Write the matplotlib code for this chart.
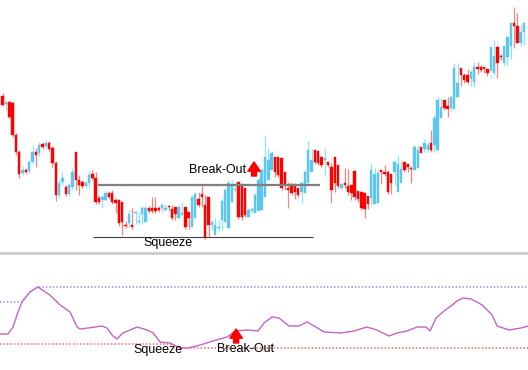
import numpy as np
import matplotlib
matplotlib.use("Agg")
import matplotlib.pyplot as plt
from matplotlib.lines import Line2D

plt.rcParams["font.family"] = ["Liberation Sans", "DejaVu Sans"]

# candles: open, close, high, low (price units)
opens = [154, 146, 148, 147, 115, 98, 77, 80, 79, 88, 98, 97, 106, 104, 107, 102, 87,
         55, 68, 63, 56, 63, 98, 70, 68, 64, 67, 76, 72, 52, 50, 50, 57, 57, 50, 50,
         48, 25, 27, 25, 37, 28, 36, 28, 42, 42, 42, 42, 42, 40, 44, 41, 43, 32, 35,
         43, 38, 23, 32, 51, 56, 45, 53, 25, 15, 22, 30, 28, 22, 48, 60, 68, 66, 62,
         33, 39, 37, 39, 40, 53, 70, 80, 93, 93, 92, 78, 62, 66, 66, 62, 58, 57, 67,
         78, 100, 99, 93, 90, 88, 83, 93, 85, 62, 67, 64, 65, 79, 59, 58, 57, 54, 52,
         46, 47, 80, 78, 78, 76, 78, 58, 67, 88, 86, 82, 80, 82, 103, 101, 100, 107,
         105, 100, 132, 150, 144, 142, 141, 153, 182, 175, 175, 171, 168, 183, 183, 183,
         181, 179, 177, 203, 194, 187, 193, 204, 227, 224, 207, 218]
closes = [145, 148, 133, 115, 98, 76, 80, 78, 88, 98, 95, 105, 103, 107, 101, 87, 55,
          67, 72, 56, 65, 78, 70, 65, 64, 67, 75, 72, 48, 48, 53, 57, 53, 48, 47, 27,
          28, 24, 36, 23, 37, 28, 42, 42, 39, 39, 39, 40, 45, 42, 43, 32, 36, 43, 37,
          23, 32, 53, 56, 45, 53, 13, 25, 28, 25, 22, 49, 60, 67, 65, 60, 33, 33, 35,
          40, 41, 55, 70, 80, 93, 90, 97, 78, 75, 62, 66, 60, 57, 58, 55, 67, 78, 100,
          90, 88, 87, 85, 92, 85, 60, 67, 64, 66, 65, 58, 57, 53, 51, 42, 41, 46, 80,
          76, 77, 78, 76, 58, 67, 88, 86, 81, 80, 83, 81, 103, 100, 97, 107, 105, 100,
          132, 150, 143, 142, 141, 153, 182, 167, 175, 170, 168, 178, 183, 181, 180, 181,
          177, 203, 194, 187, 193, 204, 213, 227, 224, 207, 218, 227]
highs = [157, 149, 149, 149, 117, 100, 84, 82, 90, 105, 102, 108, 108, 110, 109, 104,
         89, 70, 78, 65, 67, 82, 87, 75, 70, 69, 79, 80, 78, 55, 55, 59, 59, 60, 52,
         50, 32, 29, 40, 42, 39, 38, 44, 44, 44, 53, 53, 44, 47, 46, 45, 45, 38, 45,
         48, 40, 34, 55, 58, 58, 65, 55, 28, 30, 32, 30, 51, 62, 70, 70, 68, 64, 41,
         40, 42, 43, 57, 72, 82, 115, 102, 99, 93, 80, 78, 68, 68, 64, 60, 59, 69, 80,
         109, 101, 95, 92, 90, 102, 87, 87, 69, 68, 62, 82, 81, 61, 60, 56, 54, 46, 48,
         87, 82, 80, 80, 85, 80, 69, 90, 95, 89, 84, 85, 84, 105, 105, 103, 111, 109,
         120, 135, 153, 152, 146, 153, 155, 187, 187, 177, 177, 181, 180, 188, 188, 185,
         183, 180, 175, 210, 205, 196, 195, 207, 215, 243, 237, 226, 220, 230]
lows = [144, 140, 132, 113, 95, 72, 75, 76, 77, 86, 83, 94, 101, 102, 99, 83, 49,
        52, 65, 54, 54, 61, 60, 55, 62, 62, 63, 70, 46, 46, 42, 50, 51, 46, 37, 24,
        15, 22, 23, 21, 26, 26, 26, 38, 37, 37, 37, 38, 38, 40, 39, 30, 30, 32, 35,
        21, 21, 30, 49, 43, 43, 11, 13, 20, 23, 19, 20, 46, 58, 63, 58, 31, 30, 33,
        35, 37, 38, 51, 66, 78, 88, 90, 73, 73, 60, 60, 42, 55, 51, 53, 47, 65, 76,
        88, 86, 85, 83, 75, 83, 47, 58, 62, 60, 62, 55, 50, 50, 48, 40, 32, 41, 45,
        74, 75, 66, 74, 56, 56, 65, 84, 79, 78, 78, 67, 80, 98, 103, 98, 98, 98, 98,
        130, 141, 140, 133, 139, 151, 165, 164, 167, 166, 164, 163, 176, 178, 177,
        174, 172, 175, 172, 190, 184, 185, 191, 202, 211, 204, 205, 216]

# indicator line (bar index, value)
ind_x = [-0.8, 1.6, 3.1, 4.6, 5.8, 8.2, 10.6, 14.2, 17.3, 20.3, 22.4, 23.3, 25.7,
         29.9, 31.4, 32.9, 34.4, 36.2, 40.5, 43.5, 45.3, 47.4, 50.4, 53.4, 55.9,
         59.5, 63.3, 67.6, 70.0, 73.6, 76.9, 78.7, 81.1, 83.2, 86.2, 89.2, 91.7,
         93.8, 96.8, 101.9, 105.8, 109.7, 112.7, 116.3, 118.8, 121.8, 124.8, 127.5,
         128.7, 130.5, 132.9, 135.0, 136.8, 138.6, 141.1, 144.4, 147.4, 148.9, 152.5,
         156.1, 158.2]
ind_y = [36, 36, 43, 58, 68, 78, 83, 75, 65, 58, 43, 41, 42, 44, 42, 35, 31, 37, 43,
         40, 37, 28, 27, 22, 22, 25, 29, 33, 39, 40, 39, 47, 53, 52, 44, 44, 48, 44,
         38, 37, 39, 43, 40, 34, 37, 39, 43, 43, 39, 52, 59, 64, 69, 72, 71, 65, 55,
         44, 40, 42, 44]

upper_x = [-0.8, 5.8, 8.2, 10.6, 158.2]
upper_y = [68, 68, 78, 83, 83]
lower_x = [-0.8, 50.4, 53.4, 158.2]
lower_y = [26, 26, 22, 22]

resist_level, resist_span = 65, (28.7, 95.6)
support_level, support_span = 13, (27.2, 93.5)

fig = plt.figure(figsize=(5.28, 3.70), dpi=100)
ax = fig.add_axes([0, 120 / 370, 1, 250 / 370])
ax2 = fig.add_axes([0, 0, 1, 116 / 370])

n = len(opens)
idx = np.arange(n)
for i in idx:
    o, c, h, l = opens[i], closes[i], highs[i], lows[i]
    up = c >= o
    body = "#5cc6ef" if up else "#ff0000"
    wick = "#8ae6ff" if up else "#ff8080"
    ax.vlines(i, l, h, color=wick, lw=0.9, zorder=1)
    ax.bar(i, max(abs(c - o), 1), bottom=min(o, c), width=0.72,
           color=body, edgecolor=body, lw=0.3, zorder=2)

ax.hlines(resist_level, *resist_span, color="#808080", lw=1.6, zorder=3)
ax.hlines(support_level, *support_span, color="#404040", lw=0.8, zorder=3)
ax.text(64.8, 80, "Break-Out", fontsize=9, ha="center", va="center")
ax.annotate("", xy=(75.7, 88), xytext=(75.7, 74),
            arrowprops=dict(arrowstyle="simple,head_width=0.75,head_length=0.55,tail_width=0.3",
                            color="red", mutation_scale=12, shrinkA=0, shrinkB=0))
ax.text(49.8, 7, "Squeeze", fontsize=9, ha="center", va="center")
ax.set_xlim(-0.81, 158.2)
ax.set_ylim(0, 250)
ax.axis("off")

ax2.plot(ind_x, ind_y, color="#c465c4", lw=1.0, zorder=3)
ax2.plot(upper_x, upper_y, color="#7a7aff", lw=1.0, ls=(0, (1, 1.5)), zorder=2)
ax2.plot(lower_x, lower_y, color="#ff4a4a", lw=1.0, ls=(0, (1, 1.5)), zorder=2)
ax2.text(46.8, 20, "Squeeze", fontsize=9, ha="center", va="center")
ax2.text(73.0, 21, "Break-Out", fontsize=9, ha="center", va="center")
ax2.annotate("", xy=(70.3, 41), xytext=(70.3, 27),
             arrowprops=dict(arrowstyle="simple,head_width=0.75,head_length=0.55,tail_width=0.3",
                             color="red", mutation_scale=12, shrinkA=0, shrinkB=0))
ax2.set_xlim(-0.81, 158.2)
ax2.set_ylim(0, 116)
ax2.axis("off")

fig.add_artist(Line2D([0, 1], [117.5 / 370, 117.5 / 370], color="#c8c8c8", lw=1.8))

fig.savefig("out.png", dpi=100)
